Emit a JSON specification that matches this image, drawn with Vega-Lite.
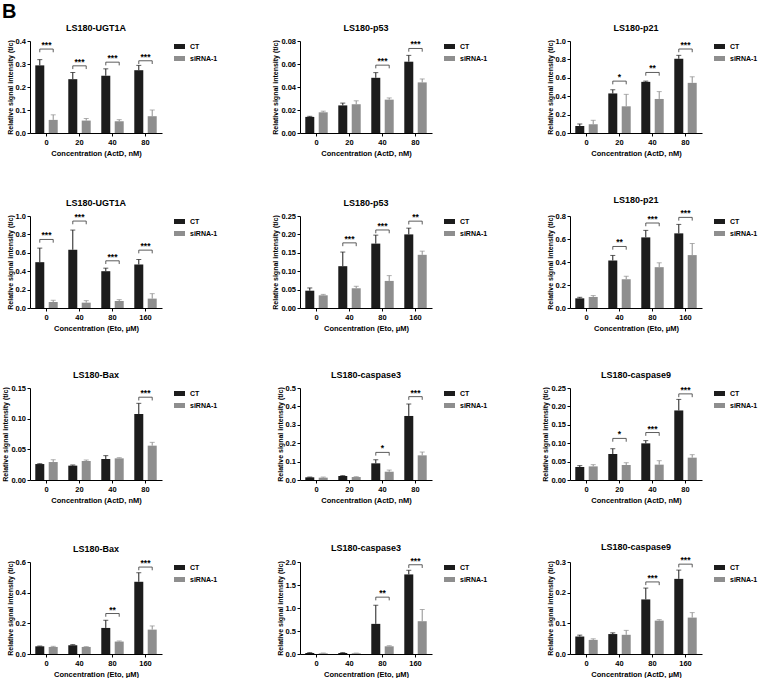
{
"$schema": "https://vega.github.io/schema/vega-lite/v6.json",
"title": {"text": "B", "fontSize": 20, "anchor": "start", "frame": "bounds", "offset": 2},
"padding": {"left": 1, "top": 2, "right": 0, "bottom": 0},
"datasets": {
"bars": [
{"p":1,"c":0,"g":"CT","v":0.294,"e":0.319},{"p":1,"c":20,"g":"CT","v":0.234,"e":0.263},{"p":1,"c":40,"g":"CT","v":0.249,"e":0.279},{"p":1,"c":80,"g":"CT","v":0.273,"e":0.294},
{"p":1,"c":0,"g":"siRNA-1","v":0.057,"e":0.079},{"p":1,"c":20,"g":"siRNA-1","v":0.054,"e":0.063},{"p":1,"c":40,"g":"siRNA-1","v":0.051,"e":0.058},{"p":1,"c":80,"g":"siRNA-1","v":0.073,"e":0.100},
{"p":2,"c":0,"g":"CT","v":0.014,"e":0.0145},{"p":2,"c":20,"g":"CT","v":0.024,"e":0.026},{"p":2,"c":40,"g":"CT","v":0.048,"e":0.0525},{"p":2,"c":80,"g":"CT","v":0.062,"e":0.0675},
{"p":2,"c":0,"g":"siRNA-1","v":0.018,"e":0.019},{"p":2,"c":20,"g":"siRNA-1","v":0.025,"e":0.028},{"p":2,"c":40,"g":"siRNA-1","v":0.029,"e":0.0305},{"p":2,"c":80,"g":"siRNA-1","v":0.044,"e":0.047},
{"p":3,"c":0,"g":"CT","v":0.076,"e":0.098},{"p":3,"c":20,"g":"CT","v":0.43,"e":0.47},{"p":3,"c":40,"g":"CT","v":0.556,"e":0.564},{"p":3,"c":80,"g":"CT","v":0.807,"e":0.844},
{"p":3,"c":0,"g":"siRNA-1","v":0.095,"e":0.138},{"p":3,"c":20,"g":"siRNA-1","v":0.29,"e":0.42},{"p":3,"c":40,"g":"siRNA-1","v":0.37,"e":0.45},{"p":3,"c":80,"g":"siRNA-1","v":0.545,"e":0.611},
{"p":4,"c":0,"g":"CT","v":0.498,"e":0.651},{"p":4,"c":40,"g":"CT","v":0.633,"e":0.847},{"p":4,"c":80,"g":"CT","v":0.40,"e":0.433},{"p":4,"c":160,"g":"CT","v":0.473,"e":0.527},
{"p":4,"c":0,"g":"siRNA-1","v":0.065,"e":0.084},{"p":4,"c":40,"g":"siRNA-1","v":0.058,"e":0.08},{"p":4,"c":80,"g":"siRNA-1","v":0.076,"e":0.091},{"p":4,"c":160,"g":"siRNA-1","v":0.102,"e":0.156},
{"p":5,"c":0,"g":"CT","v":0.047,"e":0.0545},{"p":5,"c":40,"g":"CT","v":0.1136,"e":0.152},{"p":5,"c":80,"g":"CT","v":0.175,"e":0.198},{"p":5,"c":160,"g":"CT","v":0.20,"e":0.217},
{"p":5,"c":0,"g":"siRNA-1","v":0.0345,"e":0.037},{"p":5,"c":40,"g":"siRNA-1","v":0.0536,"e":0.059},{"p":5,"c":80,"g":"siRNA-1","v":0.0736,"e":0.088},{"p":5,"c":160,"g":"siRNA-1","v":0.1445,"e":0.1545},
{"p":6,"c":0,"g":"CT","v":0.084,"e":0.093},{"p":6,"c":40,"g":"CT","v":0.413,"e":0.457},{"p":6,"c":80,"g":"CT","v":0.614,"e":0.675},{"p":6,"c":160,"g":"CT","v":0.649,"e":0.727},
{"p":6,"c":0,"g":"siRNA-1","v":0.096,"e":0.108},{"p":6,"c":40,"g":"siRNA-1","v":0.25,"e":0.276},{"p":6,"c":80,"g":"siRNA-1","v":0.355,"e":0.393},{"p":6,"c":160,"g":"siRNA-1","v":0.46,"e":0.561},
{"p":7,"c":0,"g":"CT","v":0.026,"e":0.0266},{"p":7,"c":20,"g":"CT","v":0.0234,"e":0.0245},{"p":7,"c":40,"g":"CT","v":0.0342,"e":0.0397},{"p":7,"c":80,"g":"CT","v":0.1076,"e":0.125},
{"p":7,"c":0,"g":"siRNA-1","v":0.0293,"e":0.033},{"p":7,"c":20,"g":"siRNA-1","v":0.031,"e":0.0326},{"p":7,"c":40,"g":"siRNA-1","v":0.0353,"e":0.0364},{"p":7,"c":80,"g":"siRNA-1","v":0.056,"e":0.0614},
{"p":8,"c":0,"g":"CT","v":0.0145,"e":0.016},{"p":8,"c":20,"g":"CT","v":0.0217,"e":0.0235},{"p":8,"c":40,"g":"CT","v":0.0906,"e":0.11},{"p":8,"c":80,"g":"CT","v":0.348,"e":0.413},
{"p":8,"c":0,"g":"siRNA-1","v":0.0127,"e":0.016},{"p":8,"c":20,"g":"siRNA-1","v":0.016,"e":0.018},{"p":8,"c":40,"g":"siRNA-1","v":0.045,"e":0.054},{"p":8,"c":80,"g":"siRNA-1","v":0.134,"e":0.152},
{"p":9,"c":0,"g":"CT","v":0.0353,"e":0.039},{"p":9,"c":20,"g":"CT","v":0.0707,"e":0.085},{"p":9,"c":40,"g":"CT","v":0.0996,"e":0.107},{"p":9,"c":80,"g":"CT","v":0.189,"e":0.219},
{"p":9,"c":0,"g":"siRNA-1","v":0.037,"e":0.0417},{"p":9,"c":20,"g":"siRNA-1","v":0.0408,"e":0.047},{"p":9,"c":40,"g":"siRNA-1","v":0.0417,"e":0.0525},{"p":9,"c":80,"g":"siRNA-1","v":0.0607,"e":0.0688},
{"p":10,"c":0,"g":"CT","v":0.050,"e":0.052},{"p":10,"c":40,"g":"CT","v":0.057,"e":0.061},{"p":10,"c":80,"g":"CT","v":0.170,"e":0.22},{"p":10,"c":160,"g":"CT","v":0.471,"e":0.53},
{"p":10,"c":0,"g":"siRNA-1","v":0.046,"e":0.050},{"p":10,"c":40,"g":"siRNA-1","v":0.046,"e":0.048},{"p":10,"c":80,"g":"siRNA-1","v":0.081,"e":0.085},{"p":10,"c":160,"g":"siRNA-1","v":0.159,"e":0.183},
{"p":11,"c":0,"g":"CT","v":0.022,"e":0.03},{"p":11,"c":40,"g":"CT","v":0.022,"e":0.03},{"p":11,"c":80,"g":"CT","v":0.655,"e":1.06},{"p":11,"c":160,"g":"CT","v":1.73,"e":1.82},
{"p":11,"c":0,"g":"siRNA-1","v":0.015,"e":0.022},{"p":11,"c":40,"g":"siRNA-1","v":0.015,"e":0.02},{"p":11,"c":80,"g":"siRNA-1","v":0.167,"e":0.18},{"p":11,"c":160,"g":"siRNA-1","v":0.713,"e":0.967},
{"p":12,"c":0,"g":"CT","v":0.057,"e":0.0615},{"p":12,"c":40,"g":"CT","v":0.065,"e":0.069},{"p":12,"c":80,"g":"CT","v":0.178,"e":0.215},{"p":12,"c":160,"g":"CT","v":0.245,"e":0.2736},
{"p":12,"c":0,"g":"siRNA-1","v":0.046,"e":0.0495},{"p":12,"c":40,"g":"siRNA-1","v":0.0626,"e":0.077},{"p":12,"c":80,"g":"siRNA-1","v":0.1088,"e":0.112},{"p":12,"c":160,"g":"siRNA-1","v":0.1187,"e":0.135}
],
"sig": [
{"p":1,"c":0,"g":"CT","t":0.365,"l":0.351,"s":"***"},{"p":1,"c":0,"g":"siRNA-1","t":0.365,"l":0.351,"s":"***"},
{"p":1,"c":20,"g":"CT","t":0.292,"l":0.278,"s":"***"},{"p":1,"c":20,"g":"siRNA-1","t":0.292,"l":0.278,"s":"***"},
{"p":1,"c":40,"g":"CT","t":0.308,"l":0.294,"s":"***"},{"p":1,"c":40,"g":"siRNA-1","t":0.308,"l":0.294,"s":"***"},
{"p":1,"c":80,"g":"CT","t":0.314,"l":0.300,"s":"***"},{"p":1,"c":80,"g":"siRNA-1","t":0.314,"l":0.300,"s":"***"},
{"p":2,"c":40,"g":"CT","t":0.059,"l":0.0562,"s":"***"},{"p":2,"c":40,"g":"siRNA-1","t":0.059,"l":0.0562,"s":"***"},
{"p":2,"c":80,"g":"CT","t":0.0735,"l":0.0707,"s":"***"},{"p":2,"c":80,"g":"siRNA-1","t":0.0735,"l":0.0707,"s":"***"},
{"p":3,"c":20,"g":"CT","t":0.564,"l":0.529,"s":"*"},{"p":3,"c":20,"g":"siRNA-1","t":0.564,"l":0.529,"s":"*"},
{"p":3,"c":40,"g":"CT","t":0.658,"l":0.623,"s":"**"},{"p":3,"c":40,"g":"siRNA-1","t":0.658,"l":0.623,"s":"**"},
{"p":3,"c":80,"g":"CT","t":0.913,"l":0.878,"s":"***"},{"p":3,"c":80,"g":"siRNA-1","t":0.913,"l":0.878,"s":"***"},
{"p":4,"c":0,"g":"CT","t":0.745,"l":0.71,"s":"***"},{"p":4,"c":0,"g":"siRNA-1","t":0.745,"l":0.71,"s":"***"},
{"p":4,"c":40,"g":"CT","t":0.945,"l":0.91,"s":"***"},{"p":4,"c":40,"g":"siRNA-1","t":0.945,"l":0.91,"s":"***"},
{"p":4,"c":80,"g":"CT","t":0.513,"l":0.478,"s":"***"},{"p":4,"c":80,"g":"siRNA-1","t":0.513,"l":0.478,"s":"***"},
{"p":4,"c":160,"g":"CT","t":0.629,"l":0.594,"s":"***"},{"p":4,"c":160,"g":"siRNA-1","t":0.629,"l":0.594,"s":"***"},
{"p":5,"c":40,"g":"CT","t":0.177,"l":0.168,"s":"***"},{"p":5,"c":40,"g":"siRNA-1","t":0.177,"l":0.168,"s":"***"},
{"p":5,"c":80,"g":"CT","t":0.212,"l":0.203,"s":"***"},{"p":5,"c":80,"g":"siRNA-1","t":0.212,"l":0.203,"s":"***"},
{"p":5,"c":160,"g":"CT","t":0.236,"l":0.227,"s":"**"},{"p":5,"c":160,"g":"siRNA-1","t":0.236,"l":0.227,"s":"**"},
{"p":6,"c":40,"g":"CT","t":0.535,"l":0.507,"s":"**"},{"p":6,"c":40,"g":"siRNA-1","t":0.535,"l":0.507,"s":"**"},
{"p":6,"c":80,"g":"CT","t":0.739,"l":0.711,"s":"***"},{"p":6,"c":80,"g":"siRNA-1","t":0.739,"l":0.711,"s":"***"},
{"p":6,"c":160,"g":"CT","t":0.788,"l":0.76,"s":"***"},{"p":6,"c":160,"g":"siRNA-1","t":0.788,"l":0.76,"s":"***"},
{"p":7,"c":80,"g":"CT","t":0.135,"l":0.1297,"s":"***"},{"p":7,"c":80,"g":"siRNA-1","t":0.135,"l":0.1297,"s":"***"},
{"p":8,"c":40,"g":"CT","t":0.150,"l":0.1325,"s":"*"},{"p":8,"c":40,"g":"siRNA-1","t":0.150,"l":0.1325,"s":"*"},
{"p":8,"c":80,"g":"CT","t":0.453,"l":0.4355,"s":"***"},{"p":8,"c":80,"g":"siRNA-1","t":0.453,"l":0.4355,"s":"***"},
{"p":9,"c":20,"g":"CT","t":0.113,"l":0.104,"s":"*"},{"p":9,"c":20,"g":"siRNA-1","t":0.113,"l":0.104,"s":"*"},
{"p":9,"c":40,"g":"CT","t":0.129,"l":0.120,"s":"***"},{"p":9,"c":40,"g":"siRNA-1","t":0.129,"l":0.120,"s":"***"},
{"p":9,"c":80,"g":"CT","t":0.234,"l":0.225,"s":"***"},{"p":9,"c":80,"g":"siRNA-1","t":0.234,"l":0.225,"s":"***"},
{"p":10,"c":80,"g":"CT","t":0.264,"l":0.243,"s":"**"},{"p":10,"c":80,"g":"siRNA-1","t":0.264,"l":0.243,"s":"**"},
{"p":10,"c":160,"g":"CT","t":0.567,"l":0.546,"s":"***"},{"p":10,"c":160,"g":"siRNA-1","t":0.567,"l":0.546,"s":"***"},
{"p":11,"c":80,"g":"CT","t":1.236,"l":1.166,"s":"**"},{"p":11,"c":80,"g":"siRNA-1","t":1.236,"l":1.166,"s":"**"},
{"p":11,"c":160,"g":"CT","t":1.94,"l":1.87,"s":"***"},{"p":11,"c":160,"g":"siRNA-1","t":1.94,"l":1.87,"s":"***"},
{"p":12,"c":80,"g":"CT","t":0.235,"l":0.2245,"s":"***"},{"p":12,"c":80,"g":"siRNA-1","t":0.235,"l":0.2245,"s":"***"},
{"p":12,"c":160,"g":"CT","t":0.293,"l":0.2825,"s":"***"},{"p":12,"c":160,"g":"siRNA-1","t":0.293,"l":0.2825,"s":"***"}
]
},
"columns": 3,
"spacing": {"row": 39, "column": 53},
"resolve": {"scale": {"color": "independent", "xOffset": "independent"}, "legend": {"color": "independent"}},
"concat": [
{"title":"LS180-UGT1A","width":132,"height":92,
 "encoding":{"x":{"field":"c","type":"ordinal","title":"Concentration (ActD, nM)","scale":{"paddingInner":0.32,"paddingOuter":0.16}}},
 "layer":[
  {"data":{"name":"bars"},"transform":[{"filter":"datum.p==1"}],"mark":"bar","encoding":{"xOffset":{"field":"g","type":"nominal","scale":{"paddingInner":0.33}},"y":{"field":"v","type":"quantitative","title":"Relative signal intensity (t/c)","scale":{"domain":[0,0.4],"nice":false},"axis":{"values":[0,0.1,0.2,0.3,0.4],"format":".1f","labelOverlap":false}},"color":{"field":"g","type":"nominal","scale":{"domain":["CT","siRNA-1"],"range":["#1c1c1c","#8e8e8e"]},"legend":{"title":null}}}},
  {"data":{"name":"bars"},"transform":[{"filter":"datum.p==1"}],"mark":{"type":"rule","strokeWidth":1},"encoding":{"xOffset":{"field":"g","type":"nominal"},"y":{"field":"v","type":"quantitative","title":"Relative signal intensity (t/c)","axis":{"values":[0,0.1,0.2,0.3,0.4],"format":".1f","labelOverlap":false}},"y2":{"field":"e"},"color":{"field":"g","type":"nominal","legend":null}}},
  {"data":{"name":"bars"},"transform":[{"filter":"datum.p==1"}],"mark":{"type":"tick","orient":"horizontal","size":5,"thickness":1},"encoding":{"xOffset":{"field":"g","type":"nominal"},"y":{"field":"e","type":"quantitative","title":"Relative signal intensity (t/c)","axis":{"values":[0,0.1,0.2,0.3,0.4],"format":".1f","labelOverlap":false}},"color":{"field":"g","type":"nominal","legend":null}}},
  {"data":{"name":"sig"},"transform":[{"filter":"datum.p==1"}],"mark":{"type":"line","color":"#333333","strokeWidth":0.8},"encoding":{"xOffset":{"field":"g","type":"nominal"},"y":{"field":"t","type":"quantitative","title":"Relative signal intensity (t/c)","axis":{"values":[0,0.1,0.2,0.3,0.4],"format":".1f","labelOverlap":false}},"detail":{"field":"c","type":"nominal"}}},
  {"data":{"name":"sig"},"transform":[{"filter":"datum.p==1"}],"mark":{"type":"rule","color":"#333333","strokeWidth":0.8},"encoding":{"xOffset":{"field":"g","type":"nominal"},"y":{"field":"t","type":"quantitative","title":"Relative signal intensity (t/c)","axis":{"values":[0,0.1,0.2,0.3,0.4],"format":".1f","labelOverlap":false}},"y2":{"field":"l"}}},
  {"data":{"name":"sig"},"transform":[{"filter":"datum.p==1 && datum.g=='CT'"}],"mark":{"type":"text","fontSize":8.5,"fontWeight":"bold","baseline":"alphabetic","dy":-1},"encoding":{"y":{"field":"t","type":"quantitative","title":"Relative signal intensity (t/c)","axis":{"values":[0,0.1,0.2,0.3,0.4],"format":".1f","labelOverlap":false}},"text":{"field":"s"}}}
 ]},
{"title":"LS180-p53","width":132,"height":92,
 "encoding":{"x":{"field":"c","type":"ordinal","title":"Concentration (ActD, nM)","scale":{"paddingInner":0.32,"paddingOuter":0.16}}},
 "layer":[
  {"data":{"name":"bars"},"transform":[{"filter":"datum.p==2"}],"mark":"bar","encoding":{"xOffset":{"field":"g","type":"nominal","scale":{"paddingInner":0.33}},"y":{"field":"v","type":"quantitative","title":"Relative signal intensity (t/c)","scale":{"domain":[0,0.08],"nice":false},"axis":{"values":[0,0.02,0.04,0.06,0.08],"format":".2f","labelOverlap":false}},"color":{"field":"g","type":"nominal","scale":{"domain":["CT","siRNA-1"],"range":["#1c1c1c","#8e8e8e"]},"legend":{"title":null}}}},
  {"data":{"name":"bars"},"transform":[{"filter":"datum.p==2"}],"mark":{"type":"rule","strokeWidth":1},"encoding":{"xOffset":{"field":"g","type":"nominal"},"y":{"field":"v","type":"quantitative","title":"Relative signal intensity (t/c)","axis":{"values":[0,0.02,0.04,0.06,0.08],"format":".2f","labelOverlap":false}},"y2":{"field":"e"},"color":{"field":"g","type":"nominal","legend":null}}},
  {"data":{"name":"bars"},"transform":[{"filter":"datum.p==2"}],"mark":{"type":"tick","orient":"horizontal","size":5,"thickness":1},"encoding":{"xOffset":{"field":"g","type":"nominal"},"y":{"field":"e","type":"quantitative","title":"Relative signal intensity (t/c)","axis":{"values":[0,0.02,0.04,0.06,0.08],"format":".2f","labelOverlap":false}},"color":{"field":"g","type":"nominal","legend":null}}},
  {"data":{"name":"sig"},"transform":[{"filter":"datum.p==2"}],"mark":{"type":"line","color":"#333333","strokeWidth":0.8},"encoding":{"xOffset":{"field":"g","type":"nominal"},"y":{"field":"t","type":"quantitative","title":"Relative signal intensity (t/c)","axis":{"values":[0,0.02,0.04,0.06,0.08],"format":".2f","labelOverlap":false}},"detail":{"field":"c","type":"nominal"}}},
  {"data":{"name":"sig"},"transform":[{"filter":"datum.p==2"}],"mark":{"type":"rule","color":"#333333","strokeWidth":0.8},"encoding":{"xOffset":{"field":"g","type":"nominal"},"y":{"field":"t","type":"quantitative","title":"Relative signal intensity (t/c)","axis":{"values":[0,0.02,0.04,0.06,0.08],"format":".2f","labelOverlap":false}},"y2":{"field":"l"}}},
  {"data":{"name":"sig"},"transform":[{"filter":"datum.p==2 && datum.g=='CT'"}],"mark":{"type":"text","fontSize":8.5,"fontWeight":"bold","baseline":"alphabetic","dy":-1},"encoding":{"y":{"field":"t","type":"quantitative","title":"Relative signal intensity (t/c)","axis":{"values":[0,0.02,0.04,0.06,0.08],"format":".2f","labelOverlap":false}},"text":{"field":"s"}}}
 ]},
{"title":"LS180-p21","width":132,"height":92,
 "encoding":{"x":{"field":"c","type":"ordinal","title":"Concentration (ActD, nM)","scale":{"paddingInner":0.32,"paddingOuter":0.16}}},
 "layer":[
  {"data":{"name":"bars"},"transform":[{"filter":"datum.p==3"}],"mark":"bar","encoding":{"xOffset":{"field":"g","type":"nominal","scale":{"paddingInner":0.33}},"y":{"field":"v","type":"quantitative","title":"Relative signal intensity (t/c)","scale":{"domain":[0,1.0],"nice":false},"axis":{"values":[0,0.2,0.4,0.6,0.8,1.0],"format":".1f","labelOverlap":false}},"color":{"field":"g","type":"nominal","scale":{"domain":["CT","siRNA-1"],"range":["#1c1c1c","#8e8e8e"]},"legend":{"title":null}}}},
  {"data":{"name":"bars"},"transform":[{"filter":"datum.p==3"}],"mark":{"type":"rule","strokeWidth":1},"encoding":{"xOffset":{"field":"g","type":"nominal"},"y":{"field":"v","type":"quantitative","title":"Relative signal intensity (t/c)","axis":{"values":[0,0.2,0.4,0.6,0.8,1.0],"format":".1f","labelOverlap":false}},"y2":{"field":"e"},"color":{"field":"g","type":"nominal","legend":null}}},
  {"data":{"name":"bars"},"transform":[{"filter":"datum.p==3"}],"mark":{"type":"tick","orient":"horizontal","size":5,"thickness":1},"encoding":{"xOffset":{"field":"g","type":"nominal"},"y":{"field":"e","type":"quantitative","title":"Relative signal intensity (t/c)","axis":{"values":[0,0.2,0.4,0.6,0.8,1.0],"format":".1f","labelOverlap":false}},"color":{"field":"g","type":"nominal","legend":null}}},
  {"data":{"name":"sig"},"transform":[{"filter":"datum.p==3"}],"mark":{"type":"line","color":"#333333","strokeWidth":0.8},"encoding":{"xOffset":{"field":"g","type":"nominal"},"y":{"field":"t","type":"quantitative","title":"Relative signal intensity (t/c)","axis":{"values":[0,0.2,0.4,0.6,0.8,1.0],"format":".1f","labelOverlap":false}},"detail":{"field":"c","type":"nominal"}}},
  {"data":{"name":"sig"},"transform":[{"filter":"datum.p==3"}],"mark":{"type":"rule","color":"#333333","strokeWidth":0.8},"encoding":{"xOffset":{"field":"g","type":"nominal"},"y":{"field":"t","type":"quantitative","title":"Relative signal intensity (t/c)","axis":{"values":[0,0.2,0.4,0.6,0.8,1.0],"format":".1f","labelOverlap":false}},"y2":{"field":"l"}}},
  {"data":{"name":"sig"},"transform":[{"filter":"datum.p==3 && datum.g=='CT'"}],"mark":{"type":"text","fontSize":8.5,"fontWeight":"bold","baseline":"alphabetic","dy":-1},"encoding":{"y":{"field":"t","type":"quantitative","title":"Relative signal intensity (t/c)","axis":{"values":[0,0.2,0.4,0.6,0.8,1.0],"format":".1f","labelOverlap":false}},"text":{"field":"s"}}}
 ]},
{"title":"LS180-UGT1A","width":132,"height":92,
 "encoding":{"x":{"field":"c","type":"ordinal","title":"Concentration (Eto, μM)","scale":{"paddingInner":0.32,"paddingOuter":0.16}}},
 "layer":[
  {"data":{"name":"bars"},"transform":[{"filter":"datum.p==4"}],"mark":"bar","encoding":{"xOffset":{"field":"g","type":"nominal","scale":{"paddingInner":0.33}},"y":{"field":"v","type":"quantitative","title":"Relative signal intensity (t/c)","scale":{"domain":[0,1.0],"nice":false},"axis":{"values":[0,0.2,0.4,0.6,0.8,1.0],"format":".1f","labelOverlap":false}},"color":{"field":"g","type":"nominal","scale":{"domain":["CT","siRNA-1"],"range":["#1c1c1c","#8e8e8e"]},"legend":{"title":null}}}},
  {"data":{"name":"bars"},"transform":[{"filter":"datum.p==4"}],"mark":{"type":"rule","strokeWidth":1},"encoding":{"xOffset":{"field":"g","type":"nominal"},"y":{"field":"v","type":"quantitative","title":"Relative signal intensity (t/c)","axis":{"values":[0,0.2,0.4,0.6,0.8,1.0],"format":".1f","labelOverlap":false}},"y2":{"field":"e"},"color":{"field":"g","type":"nominal","legend":null}}},
  {"data":{"name":"bars"},"transform":[{"filter":"datum.p==4"}],"mark":{"type":"tick","orient":"horizontal","size":5,"thickness":1},"encoding":{"xOffset":{"field":"g","type":"nominal"},"y":{"field":"e","type":"quantitative","title":"Relative signal intensity (t/c)","axis":{"values":[0,0.2,0.4,0.6,0.8,1.0],"format":".1f","labelOverlap":false}},"color":{"field":"g","type":"nominal","legend":null}}},
  {"data":{"name":"sig"},"transform":[{"filter":"datum.p==4"}],"mark":{"type":"line","color":"#333333","strokeWidth":0.8},"encoding":{"xOffset":{"field":"g","type":"nominal"},"y":{"field":"t","type":"quantitative","title":"Relative signal intensity (t/c)","axis":{"values":[0,0.2,0.4,0.6,0.8,1.0],"format":".1f","labelOverlap":false}},"detail":{"field":"c","type":"nominal"}}},
  {"data":{"name":"sig"},"transform":[{"filter":"datum.p==4"}],"mark":{"type":"rule","color":"#333333","strokeWidth":0.8},"encoding":{"xOffset":{"field":"g","type":"nominal"},"y":{"field":"t","type":"quantitative","title":"Relative signal intensity (t/c)","axis":{"values":[0,0.2,0.4,0.6,0.8,1.0],"format":".1f","labelOverlap":false}},"y2":{"field":"l"}}},
  {"data":{"name":"sig"},"transform":[{"filter":"datum.p==4 && datum.g=='CT'"}],"mark":{"type":"text","fontSize":8.5,"fontWeight":"bold","baseline":"alphabetic","dy":-1},"encoding":{"y":{"field":"t","type":"quantitative","title":"Relative signal intensity (t/c)","axis":{"values":[0,0.2,0.4,0.6,0.8,1.0],"format":".1f","labelOverlap":false}},"text":{"field":"s"}}}
 ]},
{"title":"LS180-p53","width":132,"height":92,
 "encoding":{"x":{"field":"c","type":"ordinal","title":"Concentration (Eto, μM)","scale":{"paddingInner":0.32,"paddingOuter":0.16}}},
 "layer":[
  {"data":{"name":"bars"},"transform":[{"filter":"datum.p==5"}],"mark":"bar","encoding":{"xOffset":{"field":"g","type":"nominal","scale":{"paddingInner":0.33}},"y":{"field":"v","type":"quantitative","title":"Relative signal intensity (t/c)","scale":{"domain":[0,0.25],"nice":false},"axis":{"values":[0,0.05,0.1,0.15,0.2,0.25],"format":".2f","labelOverlap":false}},"color":{"field":"g","type":"nominal","scale":{"domain":["CT","siRNA-1"],"range":["#1c1c1c","#8e8e8e"]},"legend":{"title":null}}}},
  {"data":{"name":"bars"},"transform":[{"filter":"datum.p==5"}],"mark":{"type":"rule","strokeWidth":1},"encoding":{"xOffset":{"field":"g","type":"nominal"},"y":{"field":"v","type":"quantitative","title":"Relative signal intensity (t/c)","axis":{"values":[0,0.05,0.1,0.15,0.2,0.25],"format":".2f","labelOverlap":false}},"y2":{"field":"e"},"color":{"field":"g","type":"nominal","legend":null}}},
  {"data":{"name":"bars"},"transform":[{"filter":"datum.p==5"}],"mark":{"type":"tick","orient":"horizontal","size":5,"thickness":1},"encoding":{"xOffset":{"field":"g","type":"nominal"},"y":{"field":"e","type":"quantitative","title":"Relative signal intensity (t/c)","axis":{"values":[0,0.05,0.1,0.15,0.2,0.25],"format":".2f","labelOverlap":false}},"color":{"field":"g","type":"nominal","legend":null}}},
  {"data":{"name":"sig"},"transform":[{"filter":"datum.p==5"}],"mark":{"type":"line","color":"#333333","strokeWidth":0.8},"encoding":{"xOffset":{"field":"g","type":"nominal"},"y":{"field":"t","type":"quantitative","title":"Relative signal intensity (t/c)","axis":{"values":[0,0.05,0.1,0.15,0.2,0.25],"format":".2f","labelOverlap":false}},"detail":{"field":"c","type":"nominal"}}},
  {"data":{"name":"sig"},"transform":[{"filter":"datum.p==5"}],"mark":{"type":"rule","color":"#333333","strokeWidth":0.8},"encoding":{"xOffset":{"field":"g","type":"nominal"},"y":{"field":"t","type":"quantitative","title":"Relative signal intensity (t/c)","axis":{"values":[0,0.05,0.1,0.15,0.2,0.25],"format":".2f","labelOverlap":false}},"y2":{"field":"l"}}},
  {"data":{"name":"sig"},"transform":[{"filter":"datum.p==5 && datum.g=='CT'"}],"mark":{"type":"text","fontSize":8.5,"fontWeight":"bold","baseline":"alphabetic","dy":-1},"encoding":{"y":{"field":"t","type":"quantitative","title":"Relative signal intensity (t/c)","axis":{"values":[0,0.05,0.1,0.15,0.2,0.25],"format":".2f","labelOverlap":false}},"text":{"field":"s"}}}
 ]},
{"title":"LS180-p21","width":132,"height":92,
 "encoding":{"x":{"field":"c","type":"ordinal","title":"Concentration (Eto, μM)","scale":{"paddingInner":0.32,"paddingOuter":0.16}}},
 "layer":[
  {"data":{"name":"bars"},"transform":[{"filter":"datum.p==6"}],"mark":"bar","encoding":{"xOffset":{"field":"g","type":"nominal","scale":{"paddingInner":0.33}},"y":{"field":"v","type":"quantitative","title":"Relative signal intensity (t/c)","scale":{"domain":[0,0.8],"nice":false},"axis":{"values":[0,0.2,0.4,0.6,0.8],"format":".1f","labelOverlap":false}},"color":{"field":"g","type":"nominal","scale":{"domain":["CT","siRNA-1"],"range":["#1c1c1c","#8e8e8e"]},"legend":{"title":null}}}},
  {"data":{"name":"bars"},"transform":[{"filter":"datum.p==6"}],"mark":{"type":"rule","strokeWidth":1},"encoding":{"xOffset":{"field":"g","type":"nominal"},"y":{"field":"v","type":"quantitative","title":"Relative signal intensity (t/c)","axis":{"values":[0,0.2,0.4,0.6,0.8],"format":".1f","labelOverlap":false}},"y2":{"field":"e"},"color":{"field":"g","type":"nominal","legend":null}}},
  {"data":{"name":"bars"},"transform":[{"filter":"datum.p==6"}],"mark":{"type":"tick","orient":"horizontal","size":5,"thickness":1},"encoding":{"xOffset":{"field":"g","type":"nominal"},"y":{"field":"e","type":"quantitative","title":"Relative signal intensity (t/c)","axis":{"values":[0,0.2,0.4,0.6,0.8],"format":".1f","labelOverlap":false}},"color":{"field":"g","type":"nominal","legend":null}}},
  {"data":{"name":"sig"},"transform":[{"filter":"datum.p==6"}],"mark":{"type":"line","color":"#333333","strokeWidth":0.8},"encoding":{"xOffset":{"field":"g","type":"nominal"},"y":{"field":"t","type":"quantitative","title":"Relative signal intensity (t/c)","axis":{"values":[0,0.2,0.4,0.6,0.8],"format":".1f","labelOverlap":false}},"detail":{"field":"c","type":"nominal"}}},
  {"data":{"name":"sig"},"transform":[{"filter":"datum.p==6"}],"mark":{"type":"rule","color":"#333333","strokeWidth":0.8},"encoding":{"xOffset":{"field":"g","type":"nominal"},"y":{"field":"t","type":"quantitative","title":"Relative signal intensity (t/c)","axis":{"values":[0,0.2,0.4,0.6,0.8],"format":".1f","labelOverlap":false}},"y2":{"field":"l"}}},
  {"data":{"name":"sig"},"transform":[{"filter":"datum.p==6 && datum.g=='CT'"}],"mark":{"type":"text","fontSize":8.5,"fontWeight":"bold","baseline":"alphabetic","dy":-1},"encoding":{"y":{"field":"t","type":"quantitative","title":"Relative signal intensity (t/c)","axis":{"values":[0,0.2,0.4,0.6,0.8],"format":".1f","labelOverlap":false}},"text":{"field":"s"}}}
 ]},
{"title":"LS180-Bax","width":132,"height":92,
 "encoding":{"x":{"field":"c","type":"ordinal","title":"Concentration (ActD, nM)","scale":{"paddingInner":0.32,"paddingOuter":0.16}}},
 "layer":[
  {"data":{"name":"bars"},"transform":[{"filter":"datum.p==7"}],"mark":"bar","encoding":{"xOffset":{"field":"g","type":"nominal","scale":{"paddingInner":0.33}},"y":{"field":"v","type":"quantitative","title":"Relative signal intensity (t/c)","scale":{"domain":[0,0.15],"nice":false},"axis":{"values":[0,0.05,0.1,0.15],"format":".2f","labelOverlap":false}},"color":{"field":"g","type":"nominal","scale":{"domain":["CT","siRNA-1"],"range":["#1c1c1c","#8e8e8e"]},"legend":{"title":null}}}},
  {"data":{"name":"bars"},"transform":[{"filter":"datum.p==7"}],"mark":{"type":"rule","strokeWidth":1},"encoding":{"xOffset":{"field":"g","type":"nominal"},"y":{"field":"v","type":"quantitative","title":"Relative signal intensity (t/c)","axis":{"values":[0,0.05,0.1,0.15],"format":".2f","labelOverlap":false}},"y2":{"field":"e"},"color":{"field":"g","type":"nominal","legend":null}}},
  {"data":{"name":"bars"},"transform":[{"filter":"datum.p==7"}],"mark":{"type":"tick","orient":"horizontal","size":5,"thickness":1},"encoding":{"xOffset":{"field":"g","type":"nominal"},"y":{"field":"e","type":"quantitative","title":"Relative signal intensity (t/c)","axis":{"values":[0,0.05,0.1,0.15],"format":".2f","labelOverlap":false}},"color":{"field":"g","type":"nominal","legend":null}}},
  {"data":{"name":"sig"},"transform":[{"filter":"datum.p==7"}],"mark":{"type":"line","color":"#333333","strokeWidth":0.8},"encoding":{"xOffset":{"field":"g","type":"nominal"},"y":{"field":"t","type":"quantitative","title":"Relative signal intensity (t/c)","axis":{"values":[0,0.05,0.1,0.15],"format":".2f","labelOverlap":false}},"detail":{"field":"c","type":"nominal"}}},
  {"data":{"name":"sig"},"transform":[{"filter":"datum.p==7"}],"mark":{"type":"rule","color":"#333333","strokeWidth":0.8},"encoding":{"xOffset":{"field":"g","type":"nominal"},"y":{"field":"t","type":"quantitative","title":"Relative signal intensity (t/c)","axis":{"values":[0,0.05,0.1,0.15],"format":".2f","labelOverlap":false}},"y2":{"field":"l"}}},
  {"data":{"name":"sig"},"transform":[{"filter":"datum.p==7 && datum.g=='CT'"}],"mark":{"type":"text","fontSize":8.5,"fontWeight":"bold","baseline":"alphabetic","dy":-1},"encoding":{"y":{"field":"t","type":"quantitative","title":"Relative signal intensity (t/c)","axis":{"values":[0,0.05,0.1,0.15],"format":".2f","labelOverlap":false}},"text":{"field":"s"}}}
 ]},
{"title":"LS180-caspase3","width":132,"height":92,
 "encoding":{"x":{"field":"c","type":"ordinal","title":"Concentration (ActD, nM)","scale":{"paddingInner":0.32,"paddingOuter":0.16}}},
 "layer":[
  {"data":{"name":"bars"},"transform":[{"filter":"datum.p==8"}],"mark":"bar","encoding":{"xOffset":{"field":"g","type":"nominal","scale":{"paddingInner":0.33}},"y":{"field":"v","type":"quantitative","title":"Relative signal intensity (t/c)","scale":{"domain":[0,0.5],"nice":false},"axis":{"values":[0,0.1,0.2,0.3,0.4,0.5],"format":".1f","labelOverlap":false}},"color":{"field":"g","type":"nominal","scale":{"domain":["CT","siRNA-1"],"range":["#1c1c1c","#8e8e8e"]},"legend":{"title":null}}}},
  {"data":{"name":"bars"},"transform":[{"filter":"datum.p==8"}],"mark":{"type":"rule","strokeWidth":1},"encoding":{"xOffset":{"field":"g","type":"nominal"},"y":{"field":"v","type":"quantitative","title":"Relative signal intensity (t/c)","axis":{"values":[0,0.1,0.2,0.3,0.4,0.5],"format":".1f","labelOverlap":false}},"y2":{"field":"e"},"color":{"field":"g","type":"nominal","legend":null}}},
  {"data":{"name":"bars"},"transform":[{"filter":"datum.p==8"}],"mark":{"type":"tick","orient":"horizontal","size":5,"thickness":1},"encoding":{"xOffset":{"field":"g","type":"nominal"},"y":{"field":"e","type":"quantitative","title":"Relative signal intensity (t/c)","axis":{"values":[0,0.1,0.2,0.3,0.4,0.5],"format":".1f","labelOverlap":false}},"color":{"field":"g","type":"nominal","legend":null}}},
  {"data":{"name":"sig"},"transform":[{"filter":"datum.p==8"}],"mark":{"type":"line","color":"#333333","strokeWidth":0.8},"encoding":{"xOffset":{"field":"g","type":"nominal"},"y":{"field":"t","type":"quantitative","title":"Relative signal intensity (t/c)","axis":{"values":[0,0.1,0.2,0.3,0.4,0.5],"format":".1f","labelOverlap":false}},"detail":{"field":"c","type":"nominal"}}},
  {"data":{"name":"sig"},"transform":[{"filter":"datum.p==8"}],"mark":{"type":"rule","color":"#333333","strokeWidth":0.8},"encoding":{"xOffset":{"field":"g","type":"nominal"},"y":{"field":"t","type":"quantitative","title":"Relative signal intensity (t/c)","axis":{"values":[0,0.1,0.2,0.3,0.4,0.5],"format":".1f","labelOverlap":false}},"y2":{"field":"l"}}},
  {"data":{"name":"sig"},"transform":[{"filter":"datum.p==8 && datum.g=='CT'"}],"mark":{"type":"text","fontSize":8.5,"fontWeight":"bold","baseline":"alphabetic","dy":-1},"encoding":{"y":{"field":"t","type":"quantitative","title":"Relative signal intensity (t/c)","axis":{"values":[0,0.1,0.2,0.3,0.4,0.5],"format":".1f","labelOverlap":false}},"text":{"field":"s"}}}
 ]},
{"title":"LS180-caspase9","width":132,"height":92,
 "encoding":{"x":{"field":"c","type":"ordinal","title":"Concentration (ActD, nM)","scale":{"paddingInner":0.32,"paddingOuter":0.16}}},
 "layer":[
  {"data":{"name":"bars"},"transform":[{"filter":"datum.p==9"}],"mark":"bar","encoding":{"xOffset":{"field":"g","type":"nominal","scale":{"paddingInner":0.33}},"y":{"field":"v","type":"quantitative","title":"Relative signal intensity (t/c)","scale":{"domain":[0,0.25],"nice":false},"axis":{"values":[0,0.05,0.1,0.15,0.2,0.25],"format":".2f","labelOverlap":false}},"color":{"field":"g","type":"nominal","scale":{"domain":["CT","siRNA-1"],"range":["#1c1c1c","#8e8e8e"]},"legend":{"title":null}}}},
  {"data":{"name":"bars"},"transform":[{"filter":"datum.p==9"}],"mark":{"type":"rule","strokeWidth":1},"encoding":{"xOffset":{"field":"g","type":"nominal"},"y":{"field":"v","type":"quantitative","title":"Relative signal intensity (t/c)","axis":{"values":[0,0.05,0.1,0.15,0.2,0.25],"format":".2f","labelOverlap":false}},"y2":{"field":"e"},"color":{"field":"g","type":"nominal","legend":null}}},
  {"data":{"name":"bars"},"transform":[{"filter":"datum.p==9"}],"mark":{"type":"tick","orient":"horizontal","size":5,"thickness":1},"encoding":{"xOffset":{"field":"g","type":"nominal"},"y":{"field":"e","type":"quantitative","title":"Relative signal intensity (t/c)","axis":{"values":[0,0.05,0.1,0.15,0.2,0.25],"format":".2f","labelOverlap":false}},"color":{"field":"g","type":"nominal","legend":null}}},
  {"data":{"name":"sig"},"transform":[{"filter":"datum.p==9"}],"mark":{"type":"line","color":"#333333","strokeWidth":0.8},"encoding":{"xOffset":{"field":"g","type":"nominal"},"y":{"field":"t","type":"quantitative","title":"Relative signal intensity (t/c)","axis":{"values":[0,0.05,0.1,0.15,0.2,0.25],"format":".2f","labelOverlap":false}},"detail":{"field":"c","type":"nominal"}}},
  {"data":{"name":"sig"},"transform":[{"filter":"datum.p==9"}],"mark":{"type":"rule","color":"#333333","strokeWidth":0.8},"encoding":{"xOffset":{"field":"g","type":"nominal"},"y":{"field":"t","type":"quantitative","title":"Relative signal intensity (t/c)","axis":{"values":[0,0.05,0.1,0.15,0.2,0.25],"format":".2f","labelOverlap":false}},"y2":{"field":"l"}}},
  {"data":{"name":"sig"},"transform":[{"filter":"datum.p==9 && datum.g=='CT'"}],"mark":{"type":"text","fontSize":8.5,"fontWeight":"bold","baseline":"alphabetic","dy":-1},"encoding":{"y":{"field":"t","type":"quantitative","title":"Relative signal intensity (t/c)","axis":{"values":[0,0.05,0.1,0.15,0.2,0.25],"format":".2f","labelOverlap":false}},"text":{"field":"s"}}}
 ]},
{"title":"LS180-Bax","width":132,"height":92,
 "encoding":{"x":{"field":"c","type":"ordinal","title":"Concentration (Eto, μM)","scale":{"paddingInner":0.32,"paddingOuter":0.16}}},
 "layer":[
  {"data":{"name":"bars"},"transform":[{"filter":"datum.p==10"}],"mark":"bar","encoding":{"xOffset":{"field":"g","type":"nominal","scale":{"paddingInner":0.33}},"y":{"field":"v","type":"quantitative","title":"Relative signal intensity (t/c)","scale":{"domain":[0,0.6],"nice":false},"axis":{"values":[0,0.2,0.4,0.6],"format":".1f","labelOverlap":false}},"color":{"field":"g","type":"nominal","scale":{"domain":["CT","siRNA-1"],"range":["#1c1c1c","#8e8e8e"]},"legend":{"title":null}}}},
  {"data":{"name":"bars"},"transform":[{"filter":"datum.p==10"}],"mark":{"type":"rule","strokeWidth":1},"encoding":{"xOffset":{"field":"g","type":"nominal"},"y":{"field":"v","type":"quantitative","title":"Relative signal intensity (t/c)","axis":{"values":[0,0.2,0.4,0.6],"format":".1f","labelOverlap":false}},"y2":{"field":"e"},"color":{"field":"g","type":"nominal","legend":null}}},
  {"data":{"name":"bars"},"transform":[{"filter":"datum.p==10"}],"mark":{"type":"tick","orient":"horizontal","size":5,"thickness":1},"encoding":{"xOffset":{"field":"g","type":"nominal"},"y":{"field":"e","type":"quantitative","title":"Relative signal intensity (t/c)","axis":{"values":[0,0.2,0.4,0.6],"format":".1f","labelOverlap":false}},"color":{"field":"g","type":"nominal","legend":null}}},
  {"data":{"name":"sig"},"transform":[{"filter":"datum.p==10"}],"mark":{"type":"line","color":"#333333","strokeWidth":0.8},"encoding":{"xOffset":{"field":"g","type":"nominal"},"y":{"field":"t","type":"quantitative","title":"Relative signal intensity (t/c)","axis":{"values":[0,0.2,0.4,0.6],"format":".1f","labelOverlap":false}},"detail":{"field":"c","type":"nominal"}}},
  {"data":{"name":"sig"},"transform":[{"filter":"datum.p==10"}],"mark":{"type":"rule","color":"#333333","strokeWidth":0.8},"encoding":{"xOffset":{"field":"g","type":"nominal"},"y":{"field":"t","type":"quantitative","title":"Relative signal intensity (t/c)","axis":{"values":[0,0.2,0.4,0.6],"format":".1f","labelOverlap":false}},"y2":{"field":"l"}}},
  {"data":{"name":"sig"},"transform":[{"filter":"datum.p==10 && datum.g=='CT'"}],"mark":{"type":"text","fontSize":8.5,"fontWeight":"bold","baseline":"alphabetic","dy":-1},"encoding":{"y":{"field":"t","type":"quantitative","title":"Relative signal intensity (t/c)","axis":{"values":[0,0.2,0.4,0.6],"format":".1f","labelOverlap":false}},"text":{"field":"s"}}}
 ]},
{"title":"LS180-caspase3","width":132,"height":92,
 "encoding":{"x":{"field":"c","type":"ordinal","title":"Concentration (Eto, μM)","scale":{"paddingInner":0.32,"paddingOuter":0.16}}},
 "layer":[
  {"data":{"name":"bars"},"transform":[{"filter":"datum.p==11"}],"mark":"bar","encoding":{"xOffset":{"field":"g","type":"nominal","scale":{"paddingInner":0.33}},"y":{"field":"v","type":"quantitative","title":"Relative signal intensity (t/c)","scale":{"domain":[0,2.0],"nice":false},"axis":{"values":[0,0.5,1.0,1.5,2.0],"format":".1f","labelOverlap":false}},"color":{"field":"g","type":"nominal","scale":{"domain":["CT","siRNA-1"],"range":["#1c1c1c","#8e8e8e"]},"legend":{"title":null}}}},
  {"data":{"name":"bars"},"transform":[{"filter":"datum.p==11"}],"mark":{"type":"rule","strokeWidth":1},"encoding":{"xOffset":{"field":"g","type":"nominal"},"y":{"field":"v","type":"quantitative","title":"Relative signal intensity (t/c)","axis":{"values":[0,0.5,1.0,1.5,2.0],"format":".1f","labelOverlap":false}},"y2":{"field":"e"},"color":{"field":"g","type":"nominal","legend":null}}},
  {"data":{"name":"bars"},"transform":[{"filter":"datum.p==11"}],"mark":{"type":"tick","orient":"horizontal","size":5,"thickness":1},"encoding":{"xOffset":{"field":"g","type":"nominal"},"y":{"field":"e","type":"quantitative","title":"Relative signal intensity (t/c)","axis":{"values":[0,0.5,1.0,1.5,2.0],"format":".1f","labelOverlap":false}},"color":{"field":"g","type":"nominal","legend":null}}},
  {"data":{"name":"sig"},"transform":[{"filter":"datum.p==11"}],"mark":{"type":"line","color":"#333333","strokeWidth":0.8},"encoding":{"xOffset":{"field":"g","type":"nominal"},"y":{"field":"t","type":"quantitative","title":"Relative signal intensity (t/c)","axis":{"values":[0,0.5,1.0,1.5,2.0],"format":".1f","labelOverlap":false}},"detail":{"field":"c","type":"nominal"}}},
  {"data":{"name":"sig"},"transform":[{"filter":"datum.p==11"}],"mark":{"type":"rule","color":"#333333","strokeWidth":0.8},"encoding":{"xOffset":{"field":"g","type":"nominal"},"y":{"field":"t","type":"quantitative","title":"Relative signal intensity (t/c)","axis":{"values":[0,0.5,1.0,1.5,2.0],"format":".1f","labelOverlap":false}},"y2":{"field":"l"}}},
  {"data":{"name":"sig"},"transform":[{"filter":"datum.p==11 && datum.g=='CT'"}],"mark":{"type":"text","fontSize":8.5,"fontWeight":"bold","baseline":"alphabetic","dy":-1},"encoding":{"y":{"field":"t","type":"quantitative","title":"Relative signal intensity (t/c)","axis":{"values":[0,0.5,1.0,1.5,2.0],"format":".1f","labelOverlap":false}},"text":{"field":"s"}}}
 ]},
{"title":"LS180-caspase9","width":132,"height":92,
 "encoding":{"x":{"field":"c","type":"ordinal","title":"Concentration (ActD, μM)","scale":{"paddingInner":0.32,"paddingOuter":0.16}}},
 "layer":[
  {"data":{"name":"bars"},"transform":[{"filter":"datum.p==12"}],"mark":"bar","encoding":{"xOffset":{"field":"g","type":"nominal","scale":{"paddingInner":0.33}},"y":{"field":"v","type":"quantitative","title":"Relative signal intensity (t/c)","scale":{"domain":[0,0.3],"nice":false},"axis":{"values":[0,0.1,0.2,0.3],"format":".1f","labelOverlap":false}},"color":{"field":"g","type":"nominal","scale":{"domain":["CT","siRNA-1"],"range":["#1c1c1c","#8e8e8e"]},"legend":{"title":null}}}},
  {"data":{"name":"bars"},"transform":[{"filter":"datum.p==12"}],"mark":{"type":"rule","strokeWidth":1},"encoding":{"xOffset":{"field":"g","type":"nominal"},"y":{"field":"v","type":"quantitative","title":"Relative signal intensity (t/c)","axis":{"values":[0,0.1,0.2,0.3],"format":".1f","labelOverlap":false}},"y2":{"field":"e"},"color":{"field":"g","type":"nominal","legend":null}}},
  {"data":{"name":"bars"},"transform":[{"filter":"datum.p==12"}],"mark":{"type":"tick","orient":"horizontal","size":5,"thickness":1},"encoding":{"xOffset":{"field":"g","type":"nominal"},"y":{"field":"e","type":"quantitative","title":"Relative signal intensity (t/c)","axis":{"values":[0,0.1,0.2,0.3],"format":".1f","labelOverlap":false}},"color":{"field":"g","type":"nominal","legend":null}}},
  {"data":{"name":"sig"},"transform":[{"filter":"datum.p==12"}],"mark":{"type":"line","color":"#333333","strokeWidth":0.8},"encoding":{"xOffset":{"field":"g","type":"nominal"},"y":{"field":"t","type":"quantitative","title":"Relative signal intensity (t/c)","axis":{"values":[0,0.1,0.2,0.3],"format":".1f","labelOverlap":false}},"detail":{"field":"c","type":"nominal"}}},
  {"data":{"name":"sig"},"transform":[{"filter":"datum.p==12"}],"mark":{"type":"rule","color":"#333333","strokeWidth":0.8},"encoding":{"xOffset":{"field":"g","type":"nominal"},"y":{"field":"t","type":"quantitative","title":"Relative signal intensity (t/c)","axis":{"values":[0,0.1,0.2,0.3],"format":".1f","labelOverlap":false}},"y2":{"field":"l"}}},
  {"data":{"name":"sig"},"transform":[{"filter":"datum.p==12 && datum.g=='CT'"}],"mark":{"type":"text","fontSize":8.5,"fontWeight":"bold","baseline":"alphabetic","dy":-1},"encoding":{"y":{"field":"t","type":"quantitative","title":"Relative signal intensity (t/c)","axis":{"values":[0,0.1,0.2,0.3],"format":".1f","labelOverlap":false}},"text":{"field":"s"}}}
 ]}
],
"config": {
 "view": {"stroke": null},
 "font": "Liberation Sans",
 "title": {"fontSize": 9, "fontWeight": "bold", "offset": 4, "frame": "group", "color": "black"},
 "axis": {"grid": false, "domainColor": "black", "tickColor": "black", "tickSize": 3, "labelFontWeight": "bold", "labelFontSize": 7.5, "labelColor": "black", "titleFontWeight": "bold", "titleColor": "black", "labelPadding": 2, "labelOverlap": false},
 "axisX": {"titleFontSize": 7.5, "titlePadding": 4, "labelAngle": 0},
 "axisY": {"titleFontSize": 7, "titlePadding": 2, "labelPadding": 1.5, "labelFlush": false},
 "legend": {"orient": "right", "offset": 12, "symbolType": "M-1,-0.45H1V0.45H-1Z", "symbolSize": 121, "symbolStrokeWidth": 0, "labelFontSize": 7, "labelFontWeight": "bold", "labelColor": "black", "rowPadding": 3, "labelOffset": 5, "padding": 0}
}
}
